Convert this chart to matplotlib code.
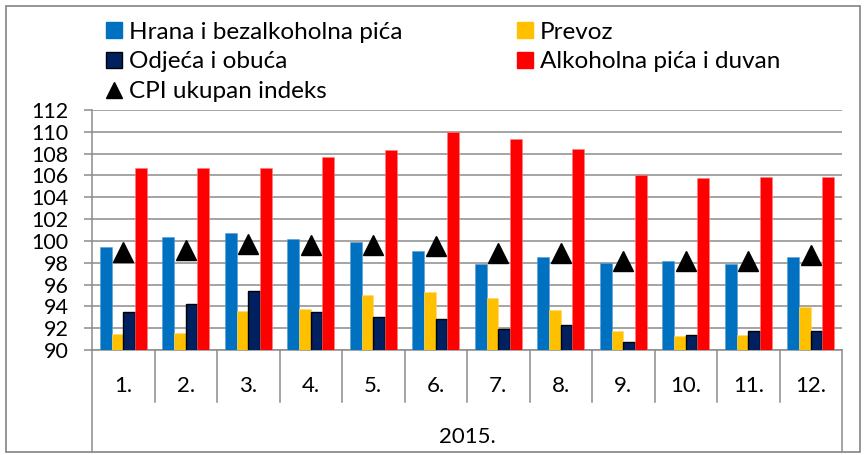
import matplotlib
matplotlib.use("Agg")
import matplotlib.pyplot as plt
from matplotlib.patches import Patch, Rectangle
from matplotlib.lines import Line2D
import numpy as np

plt.rcParams['font.family'] = ['Lato', 'DejaVu Sans']

months = ["1.", "2.", "3.", "4.", "5.", "6.", "7.", "8.", "9.", "10.", "11.", "12."]
year_label = "2015."
hrana = [99.4, 100.4, 100.7, 100.2, 99.9, 99.1, 97.9, 98.5, 98.0, 98.2, 97.9, 98.5]
prevoz = [91.5, 91.6, 93.6, 93.8, 95.0, 95.3, 94.8, 93.7, 91.7, 91.3, 91.4, 93.9]
odjeca = [93.5, 94.2, 95.4, 93.5, 93.0, 92.8, 91.9, 92.3, 90.7, 91.4, 91.7, 91.7]
alkohol = [106.7, 106.7, 106.7, 107.7, 108.3, 110.0, 109.3, 108.4, 106.0, 105.8, 105.9, 105.9]
cpi = [99.0, 99.2, 99.7, 99.6, 99.6, 99.5, 98.9, 98.9, 98.2, 98.2, 98.2, 98.7]
yticks = [90, 92, 94, 96, 98, 100, 102, 104, 106, 108, 110, 112]

names = ["Hrana i bezalkoholna pića", "Prevoz", "Odjeća i obuća", "Alkoholna pića i duvan", "CPI ukupan indeks"]
c_blue, c_yel, c_navy, c_red = "#0070C0", "#FFC000", "#002060", "#FF0000"
grid_c = "#8C8C8C"

W, H = 865, 455
fig = plt.figure(figsize=(W / 100, H / 100), dpi=100)
ax = fig.add_axes([92 / W, 1 - 350 / H, (842 - 92) / W, (350 - 110) / H])

x = np.arange(len(months))
w = 0.1875
ax.bar(x - 1.5 * w, hrana, w, color=c_blue, edgecolor="#5B9BD5", linewidth=0.4, zorder=3)
ax.bar(x - 0.5 * w, prevoz, w, color=c_yel, edgecolor="#FFD966", linewidth=0.4, zorder=3)
ax.bar(x + 0.5 * w, odjeca, w, color=c_navy, edgecolor="black", linewidth=1.0, zorder=3)
ax.bar(x + 1.5 * w, alkohol, w, color=c_red, edgecolor="#FF7F7F", linewidth=0.4, zorder=3)
ax.plot(x, cpi, linestyle="none", marker="^", markersize=14.4, color="black", zorder=4)

ax.set_ylim(90, 112)
ax.set_xlim(-0.5, 11.5)
ax.set_yticks(yticks)
ax.set_yticklabels([str(v) for v in yticks], fontsize=15.5)
ax.tick_params(axis="y", length=6, width=1.1, color=grid_c, pad=11)
ax.set_xticks([])
ax.yaxis.grid(True, color=grid_c, linewidth=1.1, zorder=0)
ax.set_axisbelow(True)
for s in ["top", "right"]:
    ax.spines[s].set_visible(False)
for s in ["left", "bottom"]:
    ax.spines[s].set_color(grid_c)
    ax.spines[s].set_linewidth(1.1)

# multi-level category axis
tr = ax.get_xaxis_transform()
y_mid = (350 - 402) / 240
y_bot = (350 - 452) / 240
for b in np.arange(-0.5, 12.0, 1.0):
    yb = y_bot if b in (-0.5, 11.5) else y_mid
    ax.plot([b, b], [0, yb], color=grid_c, linewidth=1.1, transform=tr, clip_on=False)
for i, m in enumerate(months):
    ax.text(i, (350 - 386) / 240, m, transform=tr, ha="center", va="center", fontsize=16)
ax.text(5.5, (350 - 437) / 240, year_label, transform=tr, ha="center", va="center", fontsize=16)

# outer border
fig.patches.append(Rectangle((6 / W, 1 - 452 / H), (860 - 6) / W, (452 - 6) / H,
                             transform=fig.transFigure, fill=False, edgecolor=grid_c, linewidth=1.3))

handles = [
    Patch(facecolor=c_blue, edgecolor=c_blue),
    Patch(facecolor=c_navy, edgecolor="black", linewidth=1.0),
    Line2D([], [], linestyle="none", marker="^", markersize=12, color="black"),
    Patch(facecolor=c_yel, edgecolor=c_yel),
    Patch(facecolor=c_red, edgecolor=c_red),
]
labels = [names[0], names[2], names[4], names[1], names[3]]
fig.legend(handles, labels, ncol=2, loc="upper left", bbox_to_anchor=(88.5 / W, 1 - 4.5 / H),
           frameon=False, fontsize=17.5, handlelength=0.66, handleheight=0.66,
           handletextpad=0.3, columnspacing=4.7, labelspacing=0.36, borderpad=0.2)

fig.savefig("out.png", dpi=100)
